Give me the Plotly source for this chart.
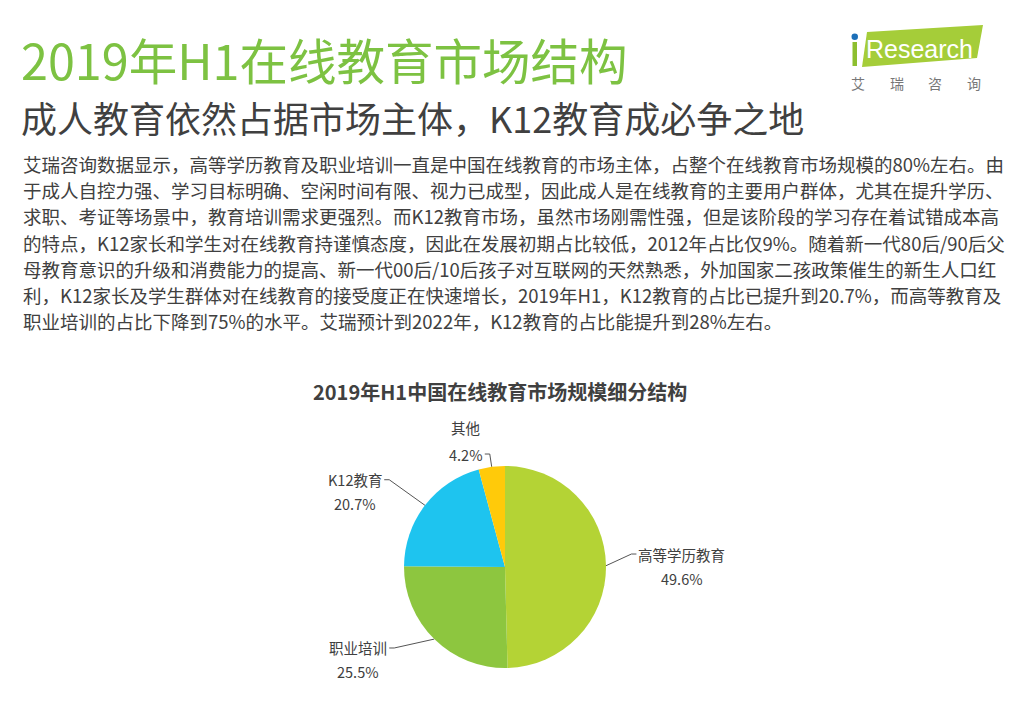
import math
import plotly.graph_objects as go

# ---------------- data ----------------
categories = ["高等学历教育", "职业培训", "K12教育", "其他"]
shares = [49.6, 25.5, 20.7, 4.2]
pct_labels = ["49.6%", "25.5%", "20.7%", "4.2%"]

page_title = "2019年H1在线教育市场结构"
page_subtitle = "成人教育依然占据市场主体，K12教育成必争之地"
body_lines = [
    "艾瑞咨询数据显示，高等学历教育及职业培训一直是中国在线教育的市场主体，占整个在线教育市场规模的80%左右。由",
    "于成人自控力强、学习目标明确、空闲时间有限、视力已成型，因此成人是在线教育的主要用户群体，尤其在提升学历、",
    "求职、考证等场景中，教育培训需求更强烈。而K12教育市场，虽然市场刚需性强，但是该阶段的学习存在着试错成本高",
    "的特点，K12家长和学生对在线教育持谨慎态度，因此在发展初期占比较低，2012年占比仅9%。随着新一代80后/90后父",
    "母教育意识的升级和消费能力的提高、新一代00后/10后孩子对互联网的天然熟悉，外加国家二孩政策催生的新生人口红",
    "利，K12家长及学生群体对在线教育的接受度正在快速增长，2019年H1，K12教育的占比已提升到20.7%，而高等教育及",
    "职业培训的占比下降到75%的水平。艾瑞预计到2022年，K12教育的占比能提升到28%左右。",
]
chart_title = "2019年H1中国在线教育市场规模细分结构"
logo_word = "Research"
logo_cn = ["艾", "瑞", "咨", "询"]

# ---------------- style ----------------
W, H = 1014, 712
FONT = "Noto Sans CJK SC, Microsoft YaHei, sans-serif"
TEXT = "#404040"
GREEN_TITLE = "#7DC242"
slice_colors = ["#B4D335", "#8DC63F", "#1EC4EF", "#FFCA0A"]
cx, cy, R = 505, 567, 101
leader_len = [28, 41, 44, 13]
leader_tilt = [-24, 33, -2, -1]
label_anchor_line = [0, 0, 0, 1]   # which text line sits at the leader end
LABEL_FS = 14.5
LINE_GAP = 24

fig = go.Figure()

# pie
fig.add_trace(go.Pie(
    labels=categories, values=shares, sort=False, direction="clockwise",
    rotation=0, textinfo="none", hoverinfo="label+percent",
    marker=dict(colors=slice_colors, line=dict(width=0)),
    domain=dict(x=[(cx - R) / W, (cx + R) / W], y=[1 - (cy + R) / H, 1 - (cy - R) / H]),
    showlegend=False,
))

annotations = []


def text_width(s, fs):
    w = 0
    for ch in s:
        w += fs if ord(ch) > 0x2E80 else 0.58 * fs
    return w


total = sum(shares)
cum = 0
for i, (name, v) in enumerate(zip(categories, shares)):
    mid = (cum + v / 2) / total
    cum += v
    th = 2 * math.pi * mid
    ex, ey = cx + R * math.sin(th), cy - R * math.cos(th)
    ph = th + math.radians(leader_tilt[i])
    bx, by = ex + leader_len[i] * math.sin(ph), ey - leader_len[i] * math.cos(ph)
    right = math.sin(th) >= 0
    endx = bx + 5 if right else bx - 5
    fig.add_trace(go.Scatter(x=[ex, bx, endx], y=[ey, by, by], mode="lines",
                             line=dict(color="#555555", width=1), hoverinfo="skip",
                             showlegend=False, xaxis="x", yaxis="y"))
    tx = endx + 2 if right else endx - 2
    name_w = text_width(name, LABEL_FS)
    pct_w = text_width(pct_labels[i], LABEL_FS)
    if label_anchor_line[i] == 0:
        name_y, pct_y = by, by + LINE_GAP
        ncx = tx + name_w / 2 if right else tx - name_w / 2
    else:
        pct_y, name_y = by, by - LINE_GAP - 3
        ncx = tx + pct_w / 2 if right else tx - pct_w / 2
    annotations.append(dict(x=ncx, y=name_y, text=name, showarrow=False, xanchor="center",
                            yanchor="middle", font=dict(size=LABEL_FS, color=TEXT, family=FONT)))
    annotations.append(dict(x=ncx, y=pct_y, text=pct_labels[i], showarrow=False, xanchor="center",
                            yanchor="middle", font=dict(size=LABEL_FS, color=TEXT, family=FONT)))

# header texts
annotations.append(dict(x=19, y=59, text=page_title, showarrow=False, xanchor="left", yanchor="middle",
                        font=dict(size=48.5, color=GREEN_TITLE, family=FONT)))
annotations.append(dict(x=19, y=117, text=page_subtitle, showarrow=False, xanchor="left", yanchor="middle",
                        font=dict(size=36, color=TEXT, family=FONT)))
for k, line in enumerate(body_lines):
    annotations.append(dict(x=21, y=164 + k * 26.2, text=line, showarrow=False, xanchor="left",
                            yanchor="middle", font=dict(size=18.5, color=TEXT, family=FONT)))
annotations.append(dict(x=500, y=391, text="<b>" + chart_title + "</b>", showarrow=False,
                        xanchor="center", yanchor="middle", font=dict(size=20, color=TEXT, family=FONT)))

# logo
shapes = [
    dict(type="path", path="M 867 32 L 983 25 L 977 58 L 862 67 Z", xref="x", yref="y",
         fillcolor="#A5CD39", line=dict(width=0), layer="below"),
    dict(type="rect", x0=852.5, x1=857, y0=42, y1=66, xref="x", yref="y",
         fillcolor="#8DBF2F", line=dict(width=0)),
    dict(type="circle", x0=851.5, x1=858, y0=33.5, y1=40, xref="x", yref="y",
         fillcolor="#1C6FB8", line=dict(width=0)),
]
annotations.append(dict(x=864, y=49, text=logo_word, showarrow=False, xanchor="left", yanchor="middle",
                        font=dict(size=25, color="white", family="Liberation Sans, Arial, sans-serif")))
for k, ch in enumerate(logo_cn):
    annotations.append(dict(x=858 + k * 38.5, y=83, text=ch, showarrow=False, xanchor="center",
                            yanchor="middle", font=dict(size=14, color="#777777", family=FONT)))

fig.update_layout(
    width=W, height=H, margin=dict(l=0, r=0, t=0, b=0),
    paper_bgcolor="white", plot_bgcolor="rgba(0,0,0,0)",
    xaxis=dict(range=[0, W], domain=[0, 1], visible=False, fixedrange=True),
    yaxis=dict(range=[H, 0], domain=[0, 1], visible=False, fixedrange=True),
    annotations=[dict(a, xref="x", yref="y") for a in annotations],
    shapes=shapes,
    showlegend=False,
)

fig.write_html("out.html")
